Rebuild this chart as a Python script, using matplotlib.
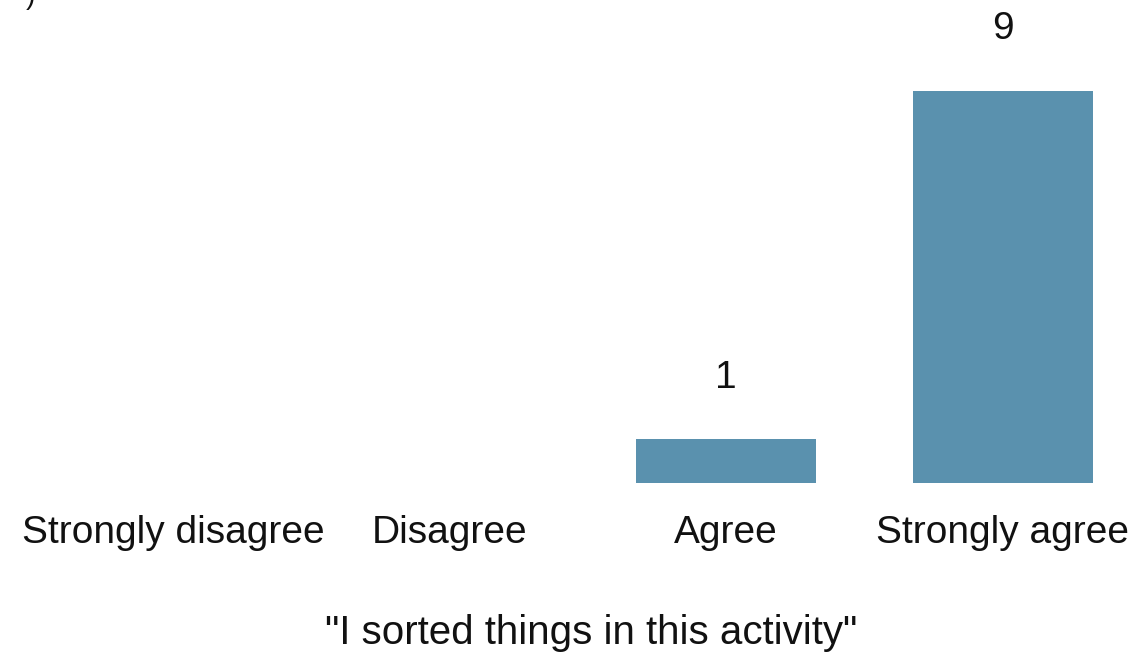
import matplotlib
matplotlib.use("Agg")
import matplotlib.pyplot as plt

categories = ["Strongly disagree", "Disagree", "Agree", "Strongly agree"]
counts = [0, 0, 1, 9]
xlabel = "\"I sorted things in this activity\""

plt.rcParams['font.family'] = ['Liberation Sans', 'DejaVu Sans']

fig = plt.figure(figsize=(11.4, 6.6), dpi=100)
ax = fig.add_axes([35/1140, (660-483)/660, 1106/1140, 483/660])
x = list(range(len(categories)))
ax.bar(x, counts, width=0.65, color="#5a91ae")
for xi, c in zip(x, counts):
    if c > 0:
        ax.text(xi, c + 1.42, str(c), ha='center', va='center', fontsize=28, color='#111111')
ax.set_xlim(-0.5, 3.5)
ax.set_ylim(0, 11.09)
ax.set_xticks(x)
ax.set_xticklabels(categories, fontsize=28, color='#111111')
ax.tick_params(axis='x', length=0, pad=23)
ax.set_yticks([])
for s in ax.spines.values():
    s.set_visible(False)
fig.text(591/1140, 1 - 633/660, xlabel, ha='center', va='center', fontsize=29, color='#111111')
fig.text(30/1140, 1.005, ")", ha='center', va='center', fontsize=20, color='#111111')
fig.savefig("out.png", dpi=100)
